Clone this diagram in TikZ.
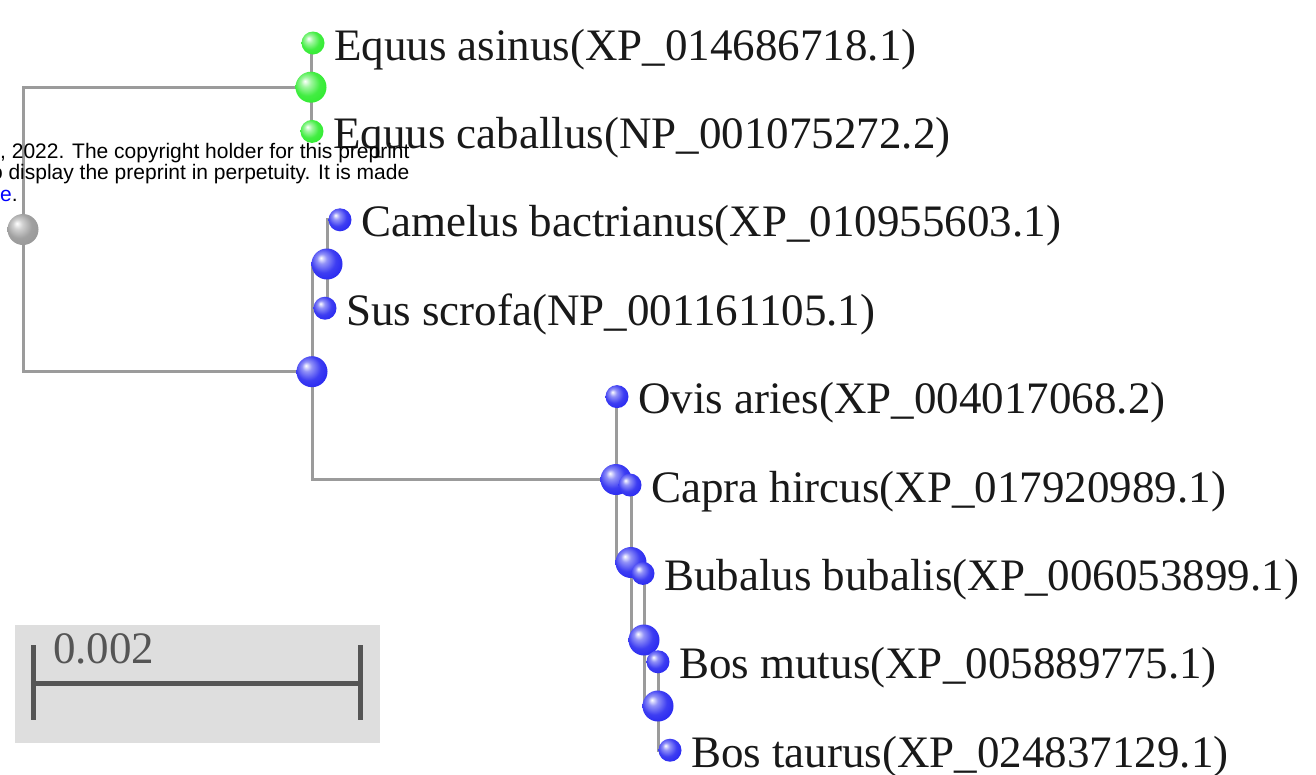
\documentclass[tikz,border=0pt]{standalone}
\usepackage{fontspec}
\setmainfont{Liberation Serif}
\newfontfamily\notefont{Liberation Sans}
\usetikzlibrary{backgrounds}
\definecolor{branchgray}{RGB}{155,155,155}
\definecolor{boxgray}{RGB}{222,222,222}
\definecolor{bargray}{RGB}{85,85,85}
\definecolor{leafgreen}{RGB}{45,235,45}
\definecolor{nodeblue}{RGB}{35,35,240}
\definecolor{rootgray}{RGB}{150,150,150}
\definecolor{labelblack}{RGB}{25,25,25}
\pgfdeclareradialshading{greensphere}{\pgfpoint{-10bp}{10bp}}{color(0bp)=(white); color(8bp)=(leafgreen!45!white); color(20bp)=(leafgreen!90!white); color(34bp)=(leafgreen); color(50bp)=(leafgreen!65!black)}
\pgfdeclareradialshading{bluesphere}{\pgfpoint{-10bp}{10bp}}{color(0bp)=(white); color(8bp)=(nodeblue!50!white); color(20bp)=(nodeblue!88!white); color(34bp)=(nodeblue); color(50bp)=(nodeblue!60!black)}
\pgfdeclareradialshading{graysphere}{\pgfpoint{-10bp}{10bp}}{color(0bp)=(white); color(8bp)=(rootgray!45!white); color(20bp)=(rootgray!90!white); color(34bp)=(rootgray); color(50bp)=(rootgray!65!black)}

\begin{document}
\begin{tikzpicture}[x=1pt, y=-1pt,
		branch/.style={draw=branchgray, line width=3pt},
		leafball/.style={circle, inner sep=0pt, minimum size=23pt, shade, shading=#1},
		nodeball/.style={circle, inner sep=0pt, minimum size=31pt, shade, shading=#1},
		taxon/.style={anchor=base west, inner sep=0pt, text=labelblack, font=\fontsize{45}{54}\selectfont}]
		\clip (0.0, 0.0) rectangle (1316.0, 774.0);

		% scale bar
		\fill[boxgray] (15.0, 625.0) rectangle (380.0, 743.0);
		\coordinate (barL) at (33.0, 683.0);
		\coordinate (barR) at (360.0, 683.0);
		\draw[bargray, line width=5pt] (barL) -- (barR);
		\draw[bargray, line width=5pt] ([yshift=38pt]barL) -- ([yshift=-37pt]barL);
		\draw[bargray, line width=5pt] ([yshift=38pt]barR) -- ([yshift=-37pt]barR);
		\node[taxon, text=bargray] (scale) at (53.0, 663.0) {0.002};

		% internal nodes
		\node[nodeball=graysphere] (root) at (23.0, 229.5) {};
		\node[nodeball=greensphere] (nEq) at (311.0, 87.2) {};
		\node[nodeball=bluesphere] (nA) at (312.0, 371.7) {};
		\node[nodeball=bluesphere] (nCS) at (327.0, 264.0) {};
		\node[nodeball=bluesphere] (nRum) at (616.0, 479.5) {};
		\node[nodeball=bluesphere] (nC) at (631.0, 562.5) {};
		\node[nodeball=bluesphere] (nD) at (644.0, 640.0) {};
		\node[nodeball=bluesphere] (nE) at (658.0, 706.0) {};

		% leaves
		\node[leafball=greensphere] (asinus) at (313.0, 43.0) {};
		\node[leafball=greensphere] (caballus) at (312.0, 131.4) {};
		\node[leafball=bluesphere] (camelus) at (340.0, 219.8) {};
		\node[leafball=bluesphere] (sus) at (325.0, 308.2) {};
		\node[leafball=bluesphere] (ovis) at (617.0, 396.6) {};
		\node[leafball=bluesphere] (capra) at (630.0, 485.0) {};
		\node[leafball=bluesphere] (bubalus) at (643.0, 573.4) {};
		\node[leafball=bluesphere] (mutus) at (658.0, 661.8) {};
		\node[leafball=bluesphere] (taurus) at (670.0, 750.2) {};

		\foreach \leaf/\name in {asinus/{Equus asinus(XP\_014686718.1)},
				caballus/{Equus caballus(NP\_001075272.2)},
				camelus/{Camelus bactrianus(XP\_010955603.1)},
				sus/{Sus scrofa(NP\_001161105.1)},
				ovis/{Ovis aries(XP\_004017068.2)},
				capra/{Capra hircus(XP\_017920989.1)},
				bubalus/{Bubalus bubalis(XP\_006053899.1)},
				mutus/{Bos mutus(XP\_005889775.1)},
				taurus/{Bos taurus(XP\_024837129.1)}}
			\node[taxon] (\leaf-label) at ([xshift=21pt, yshift=-17pt]\leaf.center) {\name};

		\begin{scope}[on background layer]
			\draw[branch] (root.center) |- (nEq.center);
			\draw[branch] (root.center) |- (nA.center);
			\draw[branch] (nEq.center) |- (asinus.center);
			\draw[branch] (nEq.center) |- (caballus.center);
			\draw[branch] (nA.center) |- (nCS.center);
			\draw[branch] (nA.center) |- (nRum.center);
			\draw[branch] (nCS.center) |- (camelus.center);
			\draw[branch] (nCS.center) |- (sus.center);
			\draw[branch] (nRum.center) |- (ovis.center);
			\draw[branch] (nRum.center) |- (nC.center);
			\draw[branch] (nC.center) |- (capra.center);
			\draw[branch] (nC.center) |- (nD.center);
			\draw[branch] (nD.center) |- (bubalus.center);
			\draw[branch] (nD.center) |- (nE.center);
			\draw[branch] (nE.center) |- (mutus.center);
			\draw[branch] (nE.center) |- (taurus.center);
		\end{scope}

		% preprint notice
		\node[anchor=base west, inner sep=0pt, font=\notefont\fontsize{21}{25}\selectfont] (note1) at (0.0, 158.0) {, 2022. The copyright holder for this preprint};
		\node[anchor=base west, inner sep=0pt, font=\notefont\fontsize{21}{25}\selectfont] (note2) at (-15.0, 179.5) {to display the preprint in perpetuity. It is made};
		\node[anchor=base west, inner sep=0pt, font=\notefont\fontsize{21}{25}\selectfont] (note3) at (0.0, 201.0) {\textcolor{blue}{e}.};
	\end{tikzpicture}
\end{document}
